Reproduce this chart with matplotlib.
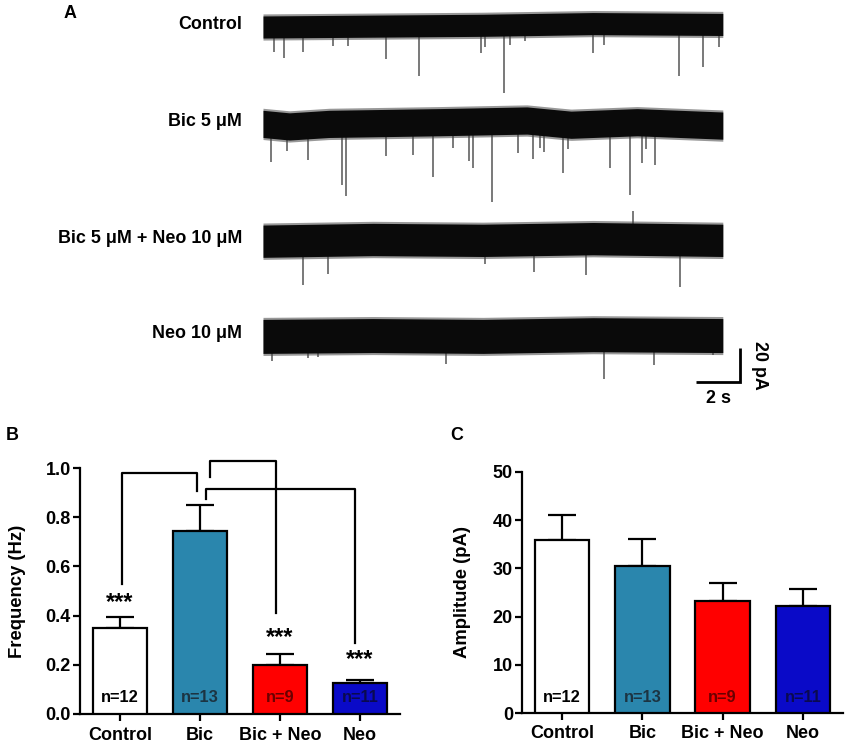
import numpy as np
import matplotlib
matplotlib.use('Agg')
import matplotlib.pyplot as plt

plt.rcParams['font.family'] = ['Liberation Sans', 'DejaVu Sans']
plt.rcParams['font.weight'] = 'bold'
plt.rcParams['axes.labelweight'] = 'bold'

# --------------------------------------------------------------------------------------
# 데이터
groups = ['Control', 'Bic', 'Bic + Neo', 'Neo']
n_labels = ['n=12', 'n=13', 'n=9', 'n=11']

freq_mean = [0.35, 0.745, 0.20, 0.125]
freq_sem = [0.045, 0.105, 0.045, 0.015]

amp_mean = [35.8, 30.5, 23.2, 22.1]
amp_sem = [5.2, 5.6, 3.8, 3.7]

# 유의성 표시 (B) : 왼쪽 x, 오른쪽 x, 꼭대기 y, 왼쪽 끝 y, 오른쪽 끝 y
bracket_left = [0.02, 1.13, 1.07]
bracket_right = [0.96, 1.95, 2.94]
bracket_top = [0.98, 1.027, 0.915]
bracket_left_end = [0.53, 0.963, 0.875]
bracket_right_end = [0.905, 0.41, 0.29]
star_groups = [0, 2, 3]
star_y = [0.453, 0.312, 0.222]

# 패널 A 트레이스 : 조건 이름, 이벤트 시간(s), 진폭(pA, 아래 방향 +)
trace_names = ['Control', 'Bic 5 μM', 'Bic 5 μM + Neo 10 μM', 'Neo 10 μM']
trace_length = 20.9
control_t = [0.51, 0.95, 1.80, 3.20, 3.85, 5.59, 7.09, 9.90, 10.09, 10.97, 11.23,
             11.91, 14.99, 15.51, 18.92, 20.01, 20.74]
control_amp = [14.5, 18.4, 15.1, 11.6, 11.6, 19.4, 29.6, 16.5, 12.5, 40.0, 11.6,
               9.6, 17.5, 12.5, 30.2, 25.3, 13.1]
bic_t = [0.36, 1.08, 2.06, 3.58, 3.76, 5.59, 6.83, 7.71, 8.65, 9.36, 9.56, 10.40,
         11.58, 12.25, 12.59, 12.76, 13.62, 13.88, 15.77, 16.68, 17.21, 17.40, 17.82]
bic_amp = [22.2, 14.3, 20.2, 35.9, 42.8, 19.2, 19.2, 31.9, 15.3, 23.1, 27.6, 47.6,
           19.2, 22.2, 15.3, 17.8, 29.0, 14.3, 26.5, 42.8, 24.1, 15.3, 24.5]
bicneo_t = [1.80, 2.94, 10.09, 12.33, 14.68, 16.80, 18.95]
bicneo_amp = [25.9, 19.6, 14.1, 19.0, 21.6, -16.3, 27.5]
neo_t = [0.42, 2.03, 2.51, 8.30, 15.51, 17.77, 20.47]
neo_amp = [14.5, 13.1, 12.5, 16.3, 26.3, 17.8, 11.6]

# 기저선 흔들림 (s, pA) 과 잡음 폭 (pA)
control_base_t = [0, 5, 10, 15, 20.9]
control_base = [0, 0.5, 1, 2, 1.5]
bic_base_t = [0, 1.2, 3, 8, 12, 14, 17, 20.9]
bic_base = [0, -1.5, 0, 1, 2, -0.5, 1, -1]
bicneo_base_t = [0, 5, 10, 15, 20.9]
bicneo_base = [0, 1, 0.5, 1.5, 0.5]
neo_base_t = [0, 5, 10, 15, 20.9]
neo_base = [0, 0.5, 0, 1, 0.5]
noise_half = [6.5, 8, 9.5, 10]

# 색상
bar_colors = ['white', '#2a86ad', '#ff0000', '#0a0ac8']
n_colors = ['black', '#1c3442', '#6a0000', '#0a0a50']

# --------------------------------------------------------------------------------------
fig = plt.figure(figsize=(8.5, 7.48), dpi=100)
W, H = 850, 748


def px_axes(left, top, right, bottom):
    return fig.add_axes([left / W, 1 - bottom / H, (right - left) / W, (bottom - top) / H])


# --------------------------------------------------------------------------------------
# 패널 A
axA = px_axes(263, 0, 780, 410)
axA.set_xlim(0, (780 - 263) / 22)
axA.set_ylim(-(410 - 27) / 1.7, 27 / 1.7)
axA.axis('off')

trace_offsets = [0, -57, -126, -182]
events = [(control_t, control_amp), (bic_t, bic_amp), (bicneo_t, bicneo_amp), (neo_t, neo_amp)]
bases = [(control_base_t, control_base), (bic_base_t, bic_base),
         (bicneo_base_t, bicneo_base), (neo_base_t, neo_base)]

for i in range(4):
    off = trace_offsets[i]
    bt, bv = bases[i]
    tt = np.linspace(0, trace_length, 400)
    base = np.interp(tt, bt, bv) + off
    hw = noise_half[i]
    axA.fill_between(tt, base - hw - 1.2, base + hw + 1.2, color='#444444', alpha=0.55,
                     lw=0, zorder=2)
    axA.fill_between(tt, base - hw, base + hw, color='#0a0a0a', lw=0, zorder=3)
    et, ea = events[i]
    eb = np.interp(et, bt, bv) + off
    axA.vlines(et, eb, eb - np.array(ea), color='#555555', lw=1.1, zorder=1)
    axA.text(-0.95, off + 1.5, trace_names[i], ha='right', va='center', fontsize=12.9,
             fontweight='bold', clip_on=False)

# 스케일 바
axA.plot([19.7, 21.7, 21.7], [-208.8, -208.8, -188.8], color='black', lw=2,
         solid_joinstyle='miter', solid_capstyle='butt')
axA.text(20.7, -218.5, '2 s', ha='center', va='center', fontsize=12.9, fontweight='bold')
axA.text(22.55, -198.8, '20 pA', ha='center', va='center', rotation=-90, fontsize=12.9,
         fontweight='bold')


# --------------------------------------------------------------------------------------
# 막대 그래프 공통 함수
def bar_panel(ax, means, sems, ylabel, ymax, yticks, fmt, n_y, label_x):
    x = np.arange(len(groups))
    ax.bar(x, means, 0.68, color=bar_colors, edgecolor='black', linewidth=1.6, zorder=3)
    ax.errorbar(x, means, yerr=[[0] * len(x), sems], fmt='none', ecolor='black',
                elinewidth=1.6, capsize=10, capthick=1.6, zorder=2)
    for i in range(len(x)):
        ax.text(x[i], n_y, n_labels[i], ha='center', va='center', fontsize=11.8,
                fontweight='bold', color=n_colors[i], zorder=4)
    ax.set_xlim(-0.5, 3.5)
    ax.set_ylim(0, ymax)
    ax.set_yticks(yticks)
    ax.set_yticklabels([fmt.format(v) for v in yticks])
    ax.set_xticks(x)
    ax.set_xticklabels(groups)
    for s in ['top', 'right']:
        ax.spines[s].set_visible(False)
    for s in ['left', 'bottom']:
        ax.spines[s].set_linewidth(1.6)
    ax.tick_params(axis='both', width=1.6, length=5, labelsize=13)
    ax.tick_params(axis='y', pad=1.5)
    ax.tick_params(axis='x', pad=4)
    ax.set_ylabel(ylabel, fontsize=13.3, fontweight='bold')
    ax.yaxis.set_label_coords(label_x, 0.5)


axB = px_axes(80, 468, 400, 714)
bar_panel(axB, freq_mean, freq_sem, 'Frequency (Hz)', 1.0, [0, 0.2, 0.4, 0.6, 0.8, 1.0],
          '{:.1f}', 0.068, -0.17)
for i in range(len(bracket_left)):
    axB.plot([bracket_left[i], bracket_left[i], bracket_right[i], bracket_right[i]],
             [bracket_left_end[i], bracket_top[i], bracket_top[i], bracket_right_end[i]],
             color='black', lw=1.6, clip_on=False, zorder=5)
for g, y in zip(star_groups, star_y):
    axB.text(g, y, '***', ha='center', va='center', fontsize=17, fontweight='bold')

axC = px_axes(522, 472, 843, 713)
bar_panel(axC, amp_mean, amp_sem, 'Amplitude (pA)', 50, [0, 10, 20, 30, 40, 50],
          '{:.0f}', 3.3, -0.158)

# 패널 문자
fig.text(70 / W, 1 - 13 / H, 'A', ha='center', va='center', fontsize=12.9, fontweight='bold')
fig.text(12 / W, 1 - 436 / H, 'B', ha='center', va='center', fontsize=12.9, fontweight='bold')
fig.text(457 / W, 1 - 436 / H, 'C', ha='center', va='center', fontsize=12.9, fontweight='bold')

fig.savefig('out.png', dpi=100)
